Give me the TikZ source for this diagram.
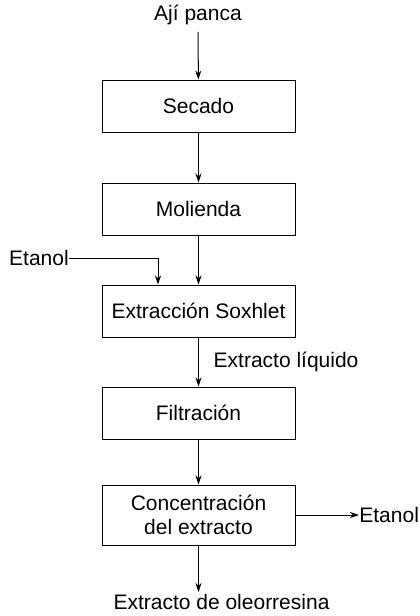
\documentclass[tikz,border=0pt]{standalone}
\usepackage{fontspec}
\setmainfont{Liberation Sans}
\usepackage{tikz}
\usetikzlibrary{arrows.meta}

\tikzset{
  etapa/.style={draw, line width=0.5pt, minimum width=96.5pt, minimum height=26pt, align=center, inner sep=1pt},
  flujo/.style={line width=0.5pt, -{Stealth[length=4.5pt, width=3pt]}},
  linea/.style={line width=0.5pt}
}

\begin{document}
\begin{tikzpicture}[x=0.5pt, y=-0.5pt, font=\fontsize{10.5}{12.2}\selectfont]
    \useasboundingbox (0,0) rectangle (419,616);
    % etapas del proceso
    \node (aji) at (198,15) {Ají panca};
    \node[etapa] (secado) at (198.5,106) {Secado};
    \node[etapa] (molienda) at (198.5,209) {Molienda};
    \node[etapa] (soxhlet) at (198.5,311) {Extracción Soxhlet};
    \node[etapa] (filtracion) at (198.5,413) {Filtración};
    \node[etapa, minimum height=30pt] (concentracion) at (198.5,515) {Concentración\\del extracto};
    % entradas y salidas
    \node[inner sep=0pt] (etanolin) at (39,258) {Etanol};
    \node[anchor=west, inner sep=0pt] (etanolout) at (359,515) {Etanol};
    \node (oleo) at (221.5,602) {Extracto de oleorresina};
    \coordinate (fin) at (198.5,592);
    \coordinate (codo) at (158,258);
    % flechas
    \draw[flujo] (aji) -- (secado);
    \draw[flujo] (secado) -- (molienda);
    \draw[flujo] (molienda) -- (soxhlet);
    \draw[linea] (etanolin.east) -- (codo);
    \draw[flujo] (codo) -- (codo |- soxhlet.north);
    \draw[flujo] (soxhlet) -- node[right, xshift=4pt]{Extracto líquido} (filtracion);
    \draw[flujo] (filtracion) -- (concentracion);
    \draw[flujo] (concentracion) -- (etanolout);
    \draw[flujo] (concentracion) -- (fin);
\end{tikzpicture}
\end{document}
